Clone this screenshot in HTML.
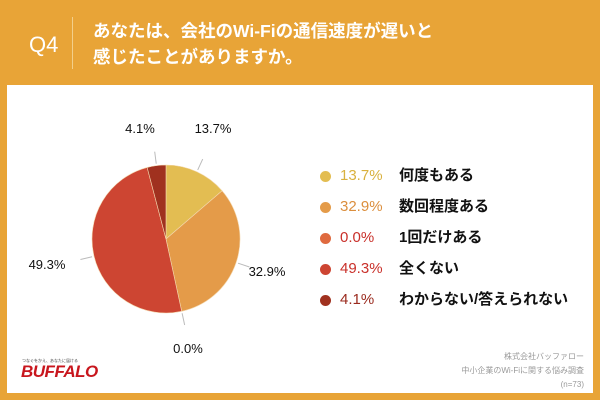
<!DOCTYPE html>
<html><head><meta charset="utf-8">
<style>
body{margin:0;width:600px;height:400px;background:#e8a437;position:relative;overflow:hidden;font-family:"Liberation Sans","Noto Sans CJK JP",sans-serif}
.q{position:absolute;left:29px;top:32px;color:#fff;font-size:22px}
.sep{position:absolute;left:72px;top:17px;width:1px;height:52px;background:#f3cf8a}
.title{position:absolute;left:93px;top:18px;color:#fff;font-size:17.5px;line-height:26px;font-weight:bold}
.panel{position:absolute;left:7px;top:85px;width:586px;height:308px;background:#fff}
.lg{position:absolute;left:0;font-size:15px;white-space:nowrap;height:20px}
.lg span{line-height:20px;top:0}
.dot{position:absolute;width:11px;height:11px;border-radius:50%;top:5px!important}
.credit{position:absolute;right:16px;top:350px;font-size:8px;color:#999;text-align:right;line-height:14px}
</style></head><body>
<div class="q">Q4</div>
<div class="sep"></div>
<div class="title">あなたは、会社のWi-Fiの通信速度が遅いと<br>感じたことがありますか。</div>
<div class="panel"></div>
<svg id="pie" width="600" height="400" style="position:absolute;left:0;top:0"></svg>
<div id="legend"></div>
<div style="position:absolute;left:22px;top:358px;font-size:4px;color:#444">つなぐをかえ、あなたに届ける</div>
<div style="position:absolute;left:21px;top:362px;font-size:17px;font-weight:bold;font-style:italic;color:#c8161d;letter-spacing:-0.5px">BUFFALO</div>
<div class="credit">株式会社バッファロー<br>中小企業のWi-Fiに関する悩み調査<br>(n=73)</div>
<script>
const categories=["何度もある","数回程度ある","1回だけある","全くない","わからない/答えられない"];
const values=[13.7,32.9,0.0,49.3,4.1];
const colors=["#e3bd52","#e49b49","#df6a3f","#cd4532","#a0311f"];
const textColors=["#d9b13e","#db8e3d","#c9302a","#c9302a","#9a2a1e"];
const labelPos=[[213,133],[267,276],[188,353],[47,269],[140,133]];
const svg=document.getElementById('pie');
const ns="http://www.w3.org/2000/svg";
const cx=166,cy=239,r=74;
const total=values.reduce((a,b)=>a+b,0);
function pt(a,rr){return [cx+rr*Math.sin(a),cy-rr*Math.cos(a)];}
let ang=0;
values.forEach((v,i)=>{
  const a0=ang,a1=ang+v/total*2*Math.PI;ang=a1;
  const mid=(a0+a1)/2;
  if(v>0){
    const p0=pt(a0,r),p1=pt(a1,r);
    const path=document.createElementNS(ns,'path');
    path.setAttribute('d',`M${cx},${cy}L${p0[0]},${p0[1]}A${r},${r} 0 ${a1-a0>Math.PI?1:0} 1 ${p1[0]},${p1[1]}Z`);
    path.setAttribute('fill',colors[i]);path.setAttribute('stroke','#f4d9b0');path.setAttribute('stroke-width','0.6');
    
    
    svg.appendChild(path);
  }
  const l0=pt(mid,r+2),l1=pt(mid,r+14);
  const ln=document.createElementNS(ns,'line');
  ln.setAttribute('x1',l0[0]);ln.setAttribute('y1',l0[1]);ln.setAttribute('x2',l1[0]);ln.setAttribute('y2',l1[1]);
  ln.setAttribute('stroke','#bbb');ln.setAttribute('stroke-width','1');
  
  
  svg.appendChild(ln);
  const t=document.createElementNS(ns,'text');
  t.setAttribute('x',labelPos[i][0]);t.setAttribute('y',labelPos[i][1]);
  t.setAttribute('font-size','13');t.setAttribute('fill','#111');t.setAttribute('text-anchor','middle');
  t.setAttribute('font-family','Liberation Sans, sans-serif');
  t.textContent=v.toFixed(1)+'%';
  
  
  svg.appendChild(t);
});
const lg=document.getElementById('legend');
const rowsY=[166,197,228,259,290];
categories.forEach((c,i)=>{
  const row=document.createElement('div');row.className='lg';row.style.top=rowsY[i]+'px';
  
  
  row.innerHTML=`<span class="dot" style="left:320px;background:${colors[i]}"></span><span style="position:absolute;left:340px;color:${textColors[i]}">${values[i].toFixed(1)}%</span><span style="position:absolute;left:399px;color:#111;font-weight:bold">${c}</span>`;
  lg.appendChild(row);
});
</script>
</body></html>
